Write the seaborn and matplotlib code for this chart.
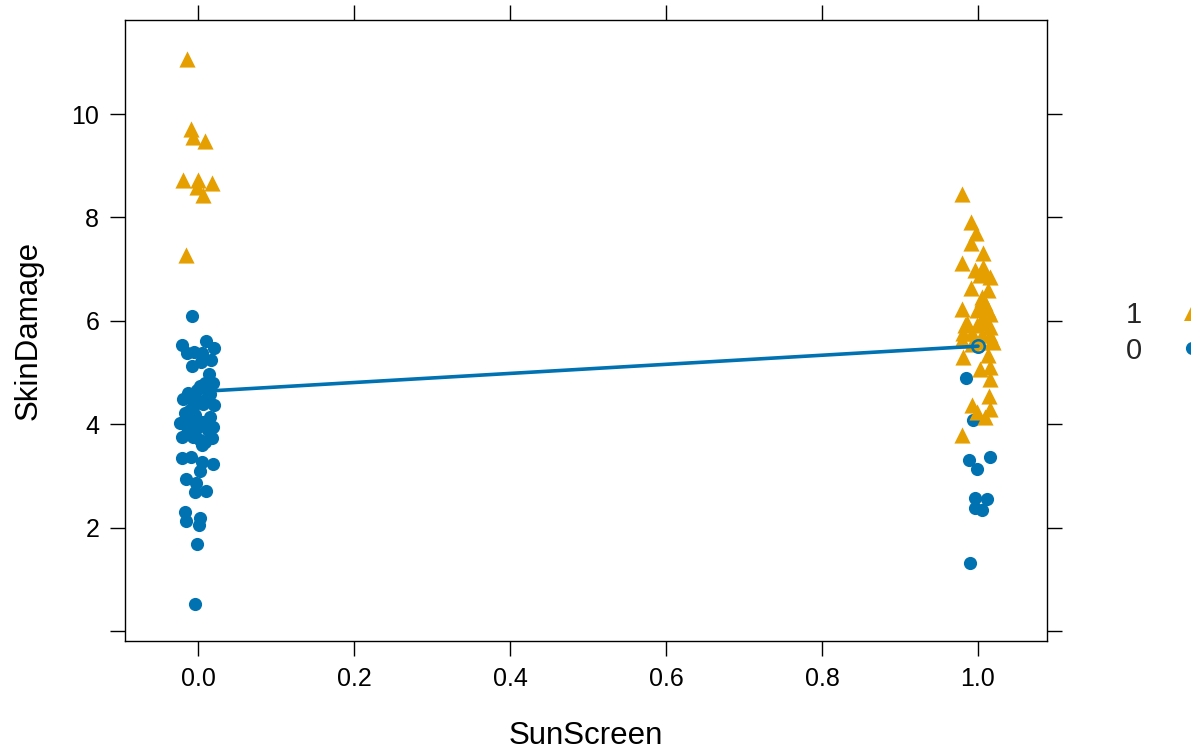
import numpy as np
import pandas as pd
import matplotlib
matplotlib.use("Agg")
import matplotlib.pyplot as plt
from matplotlib.lines import Line2D
import seaborn as sns

# ── data ─────────────────────────────────────────────────────────────────────
# group "1" (triangles), SunScreen = 0 (jittered)
x1_left = [-0.0145, -0.009, -0.0068, 0.009, -0.0196, 0.0004, 0.0183, -0.0009, 0.0064, -0.0158]
y1_left = [11.07, 9.72, 9.55, 9.48, 8.72, 8.73, 8.66, 8.59, 8.43, 7.28]

# group "0" (circles), SunScreen = 0
x0_left = [-0.0077, -0.0201, 0.0106, 0.0209, -0.0145, -0.0051, 0.0047, 0.0171, -0.0081, 0.0038,
           0.0141, 0.0188, 0.0026, -0.0009, 0.0112, -0.0188, -0.0145, 0.0209, -0.0017, 0.0068,
           -0.006, -0.0167, 0.0154, -0.0231, -0.0094, 0.0047, 0.0196, -0.0145, -0.0017, -0.0201,
           -0.006, 0.0176, 0.0047, 0.009, -0.0201, -0.0094, 0.0047, 0.0196, 0.0026, -0.0158,
           -0.0026, -0.0038, 0.0099, -0.0171, -0.0154, 0.0026, 0.0013, -0.0009, -0.0038,
           0.009, -0.0103, 0.0128, 0.0026, -0.0128, 0.0115, -0.0038, 0.0077, -0.0103, 0.0154]
y0_left = [6.10, 5.54, 5.61, 5.47, 5.37, 5.40, 5.38, 5.24, 5.12, 5.21,
           4.97, 4.80, 4.74, 4.66, 4.69, 4.48, 4.52, 4.37, 4.47, 4.40,
           4.34, 4.21, 4.14, 4.03, 4.08, 4.05, 3.95, 3.95, 3.92, 3.76,
           3.76, 3.73, 3.60, 3.66, 3.34, 3.36, 3.26, 3.23, 3.09, 2.93,
           2.87, 2.68, 2.71, 2.31, 2.13, 2.18, 2.05, 1.68, 0.53,
           4.80, 4.27, 3.88, 3.69, 4.60, 4.50, 4.17, 3.98, 3.84, 4.59]

# group "1", SunScreen = 1
x1_right = [0.9799, 0.991, 0.9974, 0.9906, 1.0068, 0.9791, 0.9962, 1.0068, 1.0026, 1.0154,
            0.9906, 1.0132, 1.0047, 1.009, 0.9791, 0.9983, 1.0154, 0.9833, 1.0026, 1.0112,
            0.9919, 1.0154, 0.9791, 1.0026, 1.0196, 0.9812, 1.0132, 1.0026, 1.0154, 1.0154,
            1.0145, 0.9919, 0.9991, 1.0154, 1.009, 0.9791,
            1.0064, 1.0047, 1.0026, 1.0132, 1.0068, 0.9855, 0.9983, 1.0154, 0.9812, 1.0047,
            1.0176, 0.9919]
y1_right = [8.46, 7.92, 7.70, 7.50, 7.32, 7.12, 6.98, 7.04, 6.88, 6.84,
            6.64, 6.59, 6.46, 6.34, 6.22, 6.21, 6.14, 5.92, 5.95, 5.98,
            5.76, 5.72, 5.63, 5.59, 5.59, 5.30, 5.34, 5.06, 5.11, 4.87,
            4.54, 4.38, 4.24, 4.30, 4.14, 3.79,
            6.94, 6.43, 6.27, 6.21, 6.08, 5.95, 5.92, 5.88, 5.76, 5.72,
            5.63, 5.56]

# group "0", SunScreen = 1
x0_right = [0.9842, 0.994, 0.9888, 1.0154, 0.9991, 0.9962, 1.0112, 0.9962, 1.0047, 0.9897]
y0_right = [4.89, 4.08, 3.31, 3.36, 3.13, 2.57, 2.55, 2.38, 2.33, 1.31]

# average line
avg_x = [0, 1]
avg_y = [4.63, 5.51]

y_ticks = [0, 2, 4, 6, 8, 10]
y_labels = ["", "2", "4", "6", "8", "10"]
x_ticks = [0.0, 0.2, 0.4, 0.6, 0.8, 1.0]
x_labels = ["0.0", "0.2", "0.4", "0.6", "0.8", "1.0"]

ORANGE = "#E69F00"
BLUE = "#0072B2"

df0 = pd.DataFrame({"SunScreen": x0_left + x0_right, "SkinDamage": y0_left + y0_right})
df1 = pd.DataFrame({"SunScreen": x1_left + x1_right, "SkinDamage": y1_left + y1_right})
avg = pd.DataFrame({"SunScreen": avg_x, "SkinDamage": avg_y})

sns.set_style("white")
plt.rcParams["font.family"] = ["Liberation Sans", "DejaVu Sans"]

fig = plt.figure(figsize=(11.91, 7.51), dpi=100)
ax = fig.add_axes([125 / 1191, 110 / 751, (1047 - 125) / 1191, (641 - 20) / 751])

sns.scatterplot(data=df0, x="SunScreen", y="SkinDamage", ax=ax, color=BLUE,
                marker="o", s=90, linewidth=0, zorder=2)
sns.scatterplot(data=df1, x="SunScreen", y="SkinDamage", ax=ax, color=ORANGE,
                marker="^", s=135, linewidth=0, zorder=3)
sns.lineplot(data=avg, x="SunScreen", y="SkinDamage", ax=ax, color=BLUE,
             linewidth=2.6, marker="o", markersize=9, markerfacecolor="none",
             markeredgecolor=BLUE, markeredgewidth=1.8, zorder=4)

ax.set_xlim(-0.0936, 1.0885)
ax.set_ylim(-0.195, 11.82)
ax.set_xticks(x_ticks)
ax.set_xticklabels(x_labels)
ax.set_yticks(y_ticks)
ax.set_yticklabels(y_labels)
ax.tick_params(axis="both", which="both", direction="out", length=10.5, width=1.0,
               color="black", labelsize=18, pad=8, labelcolor="black",
               bottom=True, left=True, top=True, right=True,
               labeltop=False, labelright=False)
for sp in ax.spines.values():
    sp.set_visible(True)
    sp.set_color("black")
    sp.set_linewidth(1.0)
ax.grid(False)

ax.set_xlabel("SunScreen", fontsize=22.5, color="black", labelpad=22)
ax.set_ylabel("SkinDamage", fontsize=22.5, color="black", labelpad=20)

handles = [
    Line2D([], [], linestyle="none", marker="^", color=ORANGE, markersize=12, markeredgewidth=0),
    Line2D([], [], linestyle="none", marker="o", color=BLUE, markersize=9.5, markeredgewidth=0),
]
ax.legend(handles, ["1", "0"], loc="center left", frameon=False,
          bbox_to_anchor=(1126 / 1191, 418 / 751), bbox_transform=fig.transFigure,
          markerfirst=False, fontsize=21, handlelength=1.0, handletextpad=1.2,
          labelspacing=0.25, borderpad=0, borderaxespad=0)

fig.savefig("out.png", dpi=100)
